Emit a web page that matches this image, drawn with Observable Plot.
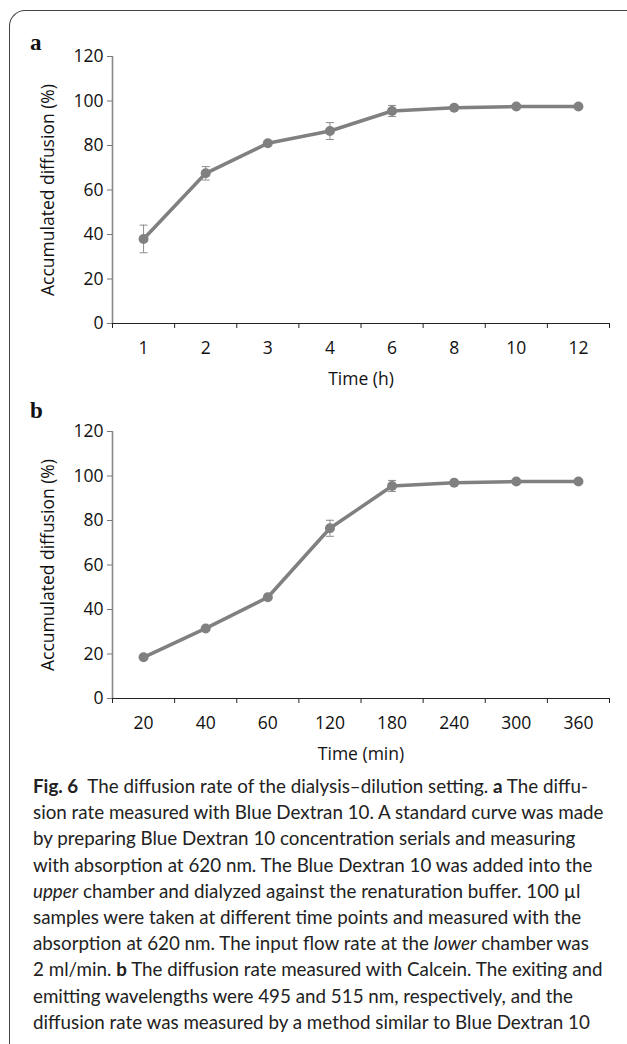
<!DOCTYPE html>
<html>
<head>
<meta charset="utf-8">
<script src="https://cdn.jsdelivr.net/npm/d3@7"></script>
<script src="https://cdn.jsdelivr.net/npm/@observablehq/plot@0.6"></script>
<style>
  html, body { margin: 0; padding: 0; background: #fff; }
  body { width: 627px; height: 1044px; position: relative; overflow: hidden; }
  #frame { position: absolute; left: 9px; top: 10px; width: 720px; height: 1100px;
           border-top: 1.2px solid #444; border-left: 1.2px solid #444; border-top-left-radius: 16px; }
  .panel { position: absolute; left: 0; }
  .plabel { position: absolute; left: 30px; font-family: "Liberation Serif", "DejaVu Serif", serif;
            font-weight: bold; font-size: 23px; line-height: 1; color: #111; }
  #caption { position: absolute; left: 33px; top: 773px; font-family: Lato, "Noto Sans", sans-serif;
             font-size: 18.8px; line-height: 26.2px; color: #222; white-space: nowrap; }
  #caption b { font-weight: bold; }
</style>
</head>
<body>
<div id="frame"></div>
<div class="plabel" style="top:31px">a</div>
<div class="plabel" style="top:399px">b</div>
<div id="panelA" class="panel" style="top:0px"></div>
<div id="panelB" class="panel" style="top:375px"></div>
<div id="caption"><b>Fig. 6</b>&nbsp; The diffusion rate of the dialysis–dilution setting. <b>a</b> The diffu-<br>sion rate measured with Blue Dextran 10. A standard curve was made<br>by preparing Blue Dextran 10 concentration serials and measuring<br>with absorption at 620 nm. The Blue Dextran 10 was added into the<br><i>upper</i> chamber and dialyzed against the renaturation buffer. 100 µl<br>samples were taken at different time points and measured with the<br>absorption at 620 nm. The input flow rate at the <i>lower</i> chamber was<br>2 ml/min. <b>b</b> The diffusion rate measured with Calcein. The exiting and<br>emitting wavelengths were 495 and 515 nm, respectively, and the<br>diffusion rate was measured by a method similar to Blue Dextran 10</div>
<script>
// Panel a: time in hours
const timeA = ["1", "2", "3", "4", "6", "8", "10", "12"];
const valueA = [38, 67.5, 81, 86.5, 95.5, 97, 97.5, 97.5];
const errA = [6.2, 3, 1, 3.8, 2.5, 0.8, 0.5, 0.5];
// Panel b: time in minutes
const timeB = ["20", "40", "60", "120", "180", "240", "300", "360"];
const valueB = [18.5, 31.5, 45.5, 76.5, 95.5, 97, 97.5, 97.5];
const errB = [0.6, 0.6, 0.6, 3.6, 2.5, 0.6, 0.5, 0.5];
const yTicks = [0, 20, 40, 60, 80, 100, 120];

const capSymbol = {
  draw(context) { context.moveTo(-4, 0); context.lineTo(4, 0); }
};

function makeChart(labels, values, errs, xLabel) {
  const data = labels.map((l, i) => ({ i: i + 0.5, label: l, v: values[i], lo: values[i] - errs[i], hi: values[i] + errs[i] }));
  const n = labels.length;
  return Plot.plot({
    width: 627, height: 375,
    marginLeft: 112, marginRight: 18, marginTop: 56, marginBottom: 52,
    x: { domain: [0, n] },
    y: { domain: [0, 120] },
    style: { fontFamily: "'Open Sans', Lato, sans-serif", fontSize: "16px", color: "#111", background: "transparent", overflow: "visible" },
    marks: [
      Plot.axisY({ ticks: yTicks, tickSize: 5, tickPadding: 4, stroke: "#777",
                   label: "Accumulated diffusion (%)", labelAnchor: "center", labelArrow: "none", labelOffset: 71 }),
      Plot.axisX({ ticks: d3.range(0, n + 1), tickSize: 5, tickFormat: () => "", label: null, stroke: "#222" }),
      Plot.axisX({ ticks: d3.range(n).map(i => i + 0.5), tickSize: 0, tickPadding: 18,
                   tickFormat: t => labels[Math.floor(t)], label: xLabel, labelAnchor: "center", labelArrow: "none", labelOffset: 61 }),
      Plot.ruleX([0], { stroke: "#888", strokeWidth: 1.6 }),
      Plot.ruleY([0], { stroke: "#222", strokeWidth: 1 }),
      Plot.ruleX(data, { x: "i", y1: "lo", y2: "hi", stroke: "#8c8c8c", strokeWidth: 1 }),
      Plot.dot(data, { x: "i", y: "lo", symbol: capSymbol, r: 4, stroke: "#8c8c8c", strokeWidth: 1, fill: "none" }),
      Plot.dot(data, { x: "i", y: "hi", symbol: capSymbol, r: 4, stroke: "#8c8c8c", strokeWidth: 1, fill: "none" }),
      Plot.line(data, { x: "i", y: "v", stroke: "#808080", strokeWidth: 3.5 }),
      Plot.dot(data, { x: "i", y: "v", r: 5, fill: "#808080", stroke: "none" })
    ]
  });
}

for (const [id, chart] of [["panelA", makeChart(timeA, valueA, errA, "Time (h)")],
                           ["panelB", makeChart(timeB, valueB, errB, "Time (min)")]]) {
  document.getElementById(id).appendChild(chart);
  chart.querySelectorAll("g[aria-label$='tick label'] text").forEach(t => { t.style.fontSize = "17.5px"; });
  chart.querySelectorAll("g[aria-label$='axis label'] text").forEach(t => { t.style.fontSize = "17.5px"; });
}
</script>
</body>
</html>
